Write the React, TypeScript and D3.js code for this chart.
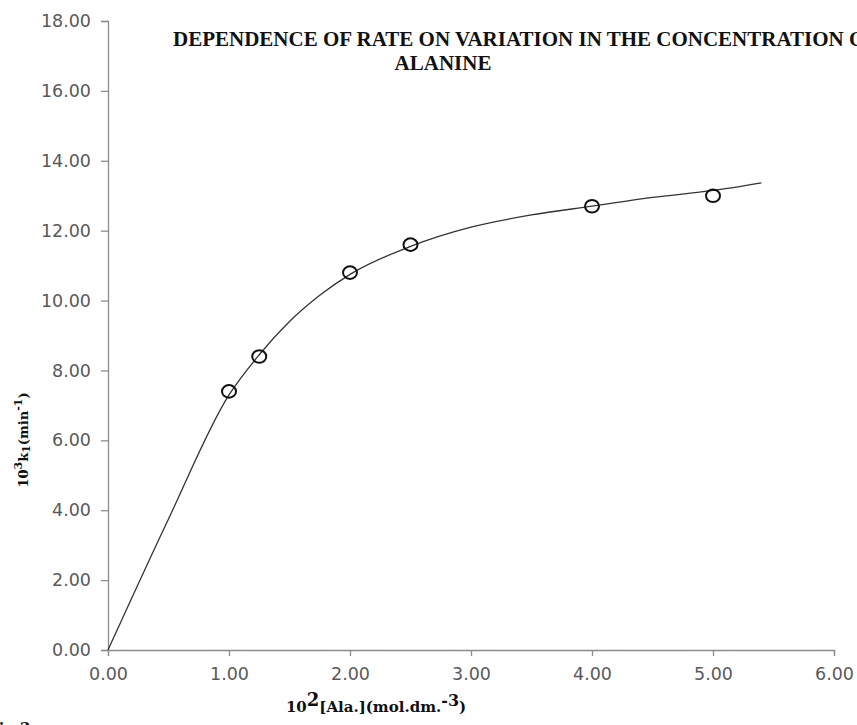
import React, { useEffect, useRef } from "react";
import * as d3 from "d3";

// measured points: 10^2[Ala.] vs 10^3 k1
const concX = [1.0, 1.25, 2.0, 2.5, 4.0, 5.0];
const rateY = [7.4, 8.4, 10.8, 11.6, 12.7, 13.0];

// fitted curve
const fitX = [0, 0.5, 1.0, 1.25, 1.5, 1.75, 2.0, 2.5, 3.0, 3.5, 4.0, 4.5, 5.0, 5.4];
const fitY = [0, 3.75, 7.3, 8.45, 9.4, 10.15, 10.75, 11.55, 12.1, 12.45, 12.7, 12.95, 13.15, 13.37];

const xTicks = [0, 1, 2, 3, 4, 5, 6];
const yTicks = [0, 2, 4, 6, 8, 10, 12, 14, 16, 18];

const titleLine1 = "DEPENDENCE OF RATE ON VARIATION IN THE CONCENTRATION OF";
const titleLine2 = "ALANINE";

const W = 857, H = 725;

export default function App() {
  const ref = useRef<SVGSVGElement>(null);

  useEffect(() => {
    const svg = d3.select(ref.current);
    svg.selectAll("*").remove();

    const x = d3.scaleLinear().domain([0, 6]).range([108, 834]);
    const y = d3.scaleLinear().domain([0, 18]).range([650, 21]);

    const axisColor = "#8c8c8c";
    const labelColor = "#595959";
    const tickFont = "'DejaVu Sans', Verdana, sans-serif";

    // y axis
    const gy = svg.append("g")
      .attr("transform", `translate(${x(0)},0)`)
      .call(d3.axisLeft(y).tickValues(yTicks).tickSize(7).tickPadding(10).tickFormat(d3.format(".2f")));
    gy.select(".domain").attr("stroke", axisColor).attr("stroke-width", 1.3);
    gy.selectAll(".tick line").attr("stroke", axisColor).attr("stroke-width", 1.3);
    gy.selectAll(".tick text").attr("fill", labelColor).attr("font-family", tickFont).attr("font-size", 17.5);

    // x axis
    const gx = svg.append("g")
      .attr("transform", `translate(0,${y(0)})`)
      .call(d3.axisBottom(x).tickValues(xTicks).tickSize(6).tickPadding(12).tickFormat(d3.format(".2f")));
    gx.select(".domain").attr("stroke", axisColor).attr("stroke-width", 1.3);
    gx.selectAll(".tick line").attr("stroke", axisColor).attr("stroke-width", 1.3);
    gx.selectAll(".tick text").attr("fill", labelColor).attr("font-family", tickFont).attr("font-size", 17.5);

    // fitted curve
    const line = d3.line<number>()
      .x((_, i) => x(fitX[i]))
      .y(d => y(d))
      .curve(d3.curveMonotoneX);
    svg.append("path")
      .attr("d", line(fitY))
      .attr("fill", "none")
      .attr("stroke", "#333")
      .attr("stroke-width", 1.3);

    // markers
    svg.append("g")
      .selectAll("ellipse")
      .data(rateY)
      .join("ellipse")
      .attr("cx", (_, i) => x(concX[i]))
      .attr("cy", d => y(d))
      .attr("rx", 7)
      .attr("ry", 6.3)
      .attr("fill", "none")
      .attr("stroke", "#111")
      .attr("stroke-width", 2);

    const serif = "'Liberation Serif', 'DejaVu Serif', serif";
    const wideSerif = "'DejaVu Serif', 'Liberation Serif', serif";

    // title (runs past the right edge, as in the figure)
    svg.append("text")
      .attr("x", 173).attr("y", 46)
      .attr("font-family", serif).attr("font-weight", "bold").attr("font-size", 21)
      .attr("fill", "#111")
      .text(titleLine1);
    svg.append("text")
      .attr("x", 443).attr("y", 70)
      .attr("text-anchor", "middle")
      .attr("font-family", serif).attr("font-weight", "bold").attr("font-size", 21)
      .attr("fill", "#111")
      .text(titleLine2);

    // y label
    const yl = svg.append("text")
      .attr("transform", "translate(28,440) rotate(-90)")
      .attr("text-anchor", "middle")
      .attr("font-family", wideSerif).attr("font-weight", "bold").attr("font-size", 13)
      .attr("fill", "#111");
    yl.append("tspan").text("10");
    yl.append("tspan").attr("dy", -6).attr("font-size", 11).text("3");
    yl.append("tspan").attr("dy", 6).text("k");
    yl.append("tspan").attr("dy", 2).attr("font-size", 11).text("1");
    yl.append("tspan").attr("dy", -2).text("(min");
    yl.append("tspan").attr("dy", -6).attr("font-size", 11).text("-1");
    yl.append("tspan").attr("dy", 6).text(")");

    // x label
    const xl = svg.append("text")
      .attr("x", 376).attr("y", 712)
      .attr("text-anchor", "middle")
      .attr("font-family", wideSerif).attr("font-weight", "bold").attr("font-size", 15)
      .attr("fill", "#111");
    xl.append("tspan").text("10");
    xl.append("tspan").attr("dy", -6).attr("font-size", 18).text("2");
    xl.append("tspan").attr("dy", 6).text("[Ala.](mol.dm.");
    xl.append("tspan").attr("dy", -6).attr("font-size", 16).text("-3");
    xl.append("tspan").attr("dy", 6).text(")");

    // caption, cut off at the bottom edge as in the figure
    svg.append("text")
      .attr("x", -12).attr("y", 733)
      .attr("font-family", wideSerif).attr("font-weight", "bold").attr("font-size", 15)
      .attr("fill", "#111")
      .text("Fig 2");
  }, []);

  return (
    <svg ref={ref} width={W} height={H}
      style={{ position: "absolute", left: 0, top: 0, background: "#fff" }} />
  );
}
